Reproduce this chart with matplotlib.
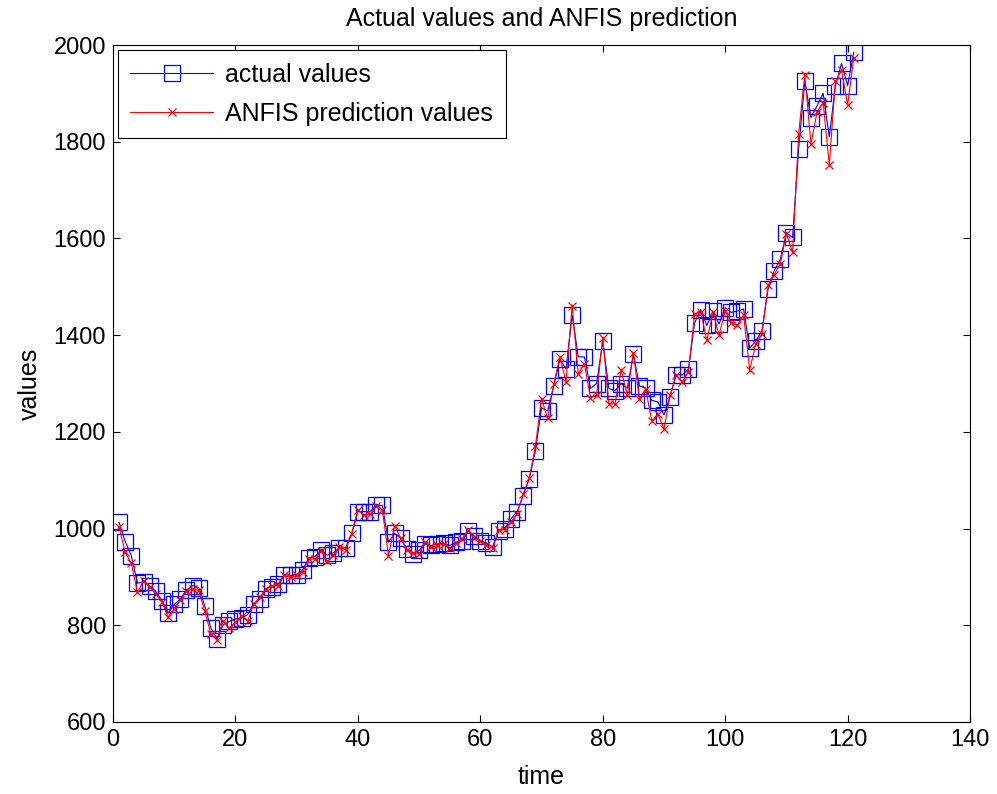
import matplotlib
matplotlib.use("Agg")
import matplotlib.pyplot as plt

plt.rcParams['font.family'] = ['Liberation Sans', 'DejaVu Sans']

time = list(range(1, 122))

actual_values = [
    1013, 973, 944, 887, 890, 882, 870, 851, 825, 843,
    854, 873, 882, 878, 840, 794, 772, 801, 808, 813,
    815, 822, 844, 854, 876, 880, 885, 905, 903, 905,
    915, 940, 942, 955, 945, 950, 960, 960, 990, 1035,
    1035, 1035, 1048, 1048, 972, 990, 980, 958, 948, 955,
    968, 965, 968, 970, 965, 972, 975, 995, 985, 975,
    970, 962, 995, 1000, 1020, 1035, 1068, 1103, 1160, 1250,
    1243, 1295, 1350, 1330, 1442, 1355, 1355, 1290, 1300, 1387,
    1290, 1285, 1300, 1290, 1360, 1295, 1290, 1265, 1262, 1235,
    1273, 1318, 1318, 1330, 1425, 1453, 1420, 1450, 1423, 1457,
    1447, 1450, 1454, 1373, 1388, 1409, 1495, 1533, 1557, 1612,
    1602, 1785, 1925, 1850, 1874, 1900, 1810, 1916, 1962, 1916,
    1985,
]

anfis_prediction = [
    1003, 951, 928, 868, 891, 880, 865, 848, 817, 834,
    852, 870, 875, 872, 829, 782, 770, 809, 794, 806,
    820, 808, 844, 858, 876, 881, 882, 903, 899, 903,
    910, 937, 937, 954, 932, 945, 961, 956, 989, 1039,
    1028, 1030, 1046, 1039, 944, 1006, 980, 956, 950, 947,
    972, 961, 965, 968, 959, 970, 978, 996, 980, 975,
    965, 959, 996, 998, 1014, 1030, 1071, 1104, 1171, 1268,
    1228, 1299, 1354, 1304, 1461, 1320, 1340, 1271, 1276, 1395,
    1258, 1258, 1328, 1276, 1363, 1268, 1289, 1223, 1237, 1206,
    1276, 1317, 1304, 1324, 1444, 1448, 1389, 1447, 1400, 1450,
    1426, 1420, 1442, 1328, 1382, 1402, 1503, 1525, 1547, 1610,
    1571, 1817, 1938, 1796, 1861, 1881, 1752, 1925, 1948, 1876,
    1973,
]

x_ticks = [0, 20, 40, 60, 80, 100, 120, 140]
y_ticks = [600, 800, 1000, 1200, 1400, 1600, 1800, 2000]

fig = plt.figure(figsize=(9.97, 7.94), dpi=100)
ax = fig.add_axes([0.1133, 0.0907, 0.8597, 0.8526])

ax.plot(time, actual_values, color='#0000ff', lw=0.8, marker='s', ms=11.5,
        mfc='none', mec='#0000ff', mew=0.9, label='actual values')
ax.plot(time, anfis_prediction, color='#ff0000', lw=0.8, marker='x', ms=6,
        mew=0.9, label='ANFIS prediction values')

ax.set_xlim(0, 140)
ax.set_ylim(600, 2000)
ax.set_xticks(x_ticks)
ax.set_yticks(y_ticks)
ax.tick_params(direction='in', top=True, right=True, labelsize=17, length=5,
               pad=5)
for s in ax.spines.values():
    s.set_linewidth(0.8)

ax.set_title('Actual values and ANFIS prediction', fontsize=18, pad=14)
ax.set_xlabel('time', fontsize=18, labelpad=10)
ax.set_ylabel('values', fontsize=18, labelpad=8)

leg = ax.legend(loc='upper left', fontsize=18, fancybox=False, framealpha=1,
                edgecolor='black', borderaxespad=0.2, handlelength=3.3,
                labelspacing=0.6, borderpad=0.5, handletextpad=0.5)
leg.get_frame().set_linewidth(0.8)

fig.savefig('out.png', dpi=100)
